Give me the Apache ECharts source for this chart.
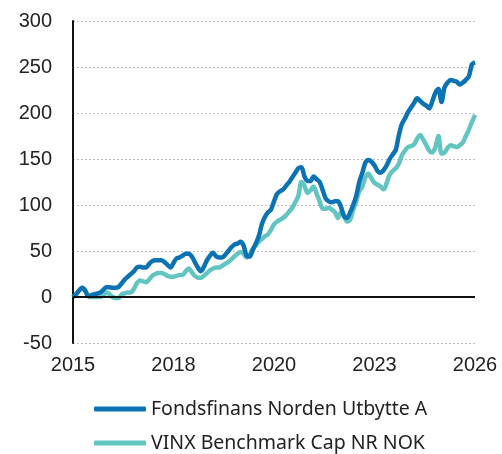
<!DOCTYPE html>
<html>
<head>
<meta charset="utf-8">
<style>
  html, body { margin: 0; padding: 0; background: #fff; }
  #chart { width: 502px; height: 454px; }
</style>
<script src="https://cdn.jsdelivr.net/npm/echarts@6/dist/echarts.min.js"></script>
</head>
<body>
<div id="chart"></div>
<script>
// monthly points, Jan 2015 .. Jan 2026 (index = months since start)
var xTickLabels = ['2015', '2018', '2020', '2023', '2026'];
var xTickStep = 33;

var fundName = 'Fondsfinans Norden Utbytte A';
var benchName = 'VINX Benchmark Cap NR NOK';

var fundValues = [
  0, 3, 7, 10, 7, 1, 2, 3, 4, 5, 8, 10.5, 10.5, 10, 10, 11, 15, 19, 22, 25,
  28, 32, 33, 32, 32, 36, 39, 40, 40, 40, 38, 35, 32, 37, 42, 43, 45, 47, 47, 44,
  38, 32, 28, 33, 40, 45, 48, 44, 43, 43, 46, 50, 54, 57, 58, 60, 56, 45, 44, 51,
  58, 66, 79, 87, 92, 95, 104, 112, 115, 117, 121, 125, 130, 135, 140, 141, 131, 126, 126, 131,
  128, 125, 116, 107, 104, 103, 104, 104, 98, 88, 86, 92, 100, 110, 125, 135, 146, 149, 147, 143,
  137, 135, 138, 143, 150, 155, 160, 176, 188, 194, 201, 206, 211, 216, 213, 210, 208, 205, 213, 222,
  226, 212, 228, 233, 236, 235, 234, 231, 233, 236, 240, 253, 255
];

var benchValues = [
  0, 3, 7, 10, 7, 1, 0, 0, 0, 0, 2, 5, 3, 0, -1, -1, 3, 4, 5, 5,
  9, 15, 18, 17, 16, 19, 23, 25, 26, 26, 25, 23, 22, 22, 23, 24, 24, 28, 31, 27,
  23, 21, 21, 23, 26, 29, 31, 32, 32, 34, 36, 38, 41, 44, 47, 49, 47, 43, 46, 52,
  56, 60, 63, 66, 68, 73, 79, 82, 84, 86, 89, 93, 97, 103, 110, 125, 121, 113, 116, 120,
  112, 104, 96, 96, 97, 95, 92, 86, 92, 88, 82, 84, 95, 104, 115, 120, 130, 134, 129, 124,
  122, 120, 117, 124, 133, 137, 140, 145, 154, 159, 163, 164, 166, 172, 176, 171, 165, 159, 157, 163,
  175, 156, 157, 162, 165, 164, 163, 165, 168, 175, 182, 190, 198
];

function toPairs(arr) {
  return arr.map(function (v, i) { return [i, v]; });
}

var chart = echarts.init(document.getElementById('chart'));

var option = {
  animation: false,
  backgroundColor: '#fff',
  grid: {
    left: 73,
    right: 27,
    top: 21,
    bottom: 111,
    containLabel: false
  },
  legend: {
    orient: 'vertical',
    left: 94,
    top: 399,
    padding: 0,
    itemWidth: 52,
    itemHeight: 5,
    itemGap: 14,
    icon: 'roundRect',
    textStyle: {
      fontFamily: 'Noto Sans',
      fontSize: 19.5,
      color: '#222',
      lineHeight: 20
    },
    data: [fundName, benchName]
  },
  xAxis: {
    type: 'value',
    min: 0,
    max: 132,
    interval: xTickStep,
    axisLine: { show: false, onZero: false },
    axisTick: { show: false },
    splitLine: { show: false },
    axisLabel: {
      margin: 12,
      fontFamily: 'Liberation Sans',
      fontSize: 20,
      color: '#222',
      formatter: function (v) {
        return xTickLabels[Math.round(v / xTickStep)] || '';
      }
    }
  },
  yAxis: {
    type: 'value',
    min: -50,
    max: 300,
    interval: 50,
    axisLine: { show: true, lineStyle: { color: '#111', width: 2 } },
    axisTick: { show: false },
    axisLabel: {
      margin: 21,
      fontFamily: 'Liberation Sans',
      fontSize: 20,
      color: '#222'
    },
    splitLine: {
      show: true,
      lineStyle: { color: '#c2bcbc', width: 1, type: [2, 2] }
    }
  },
  series: [
    {
      name: benchName,
      type: 'line',
      data: toPairs(benchValues),
      showSymbol: false,
      smooth: 0.3,
      color: '#63c5c1',
      lineStyle: { width: 4.5, color: '#63c5c1' },
      z: 2,
      markLine: {
        silent: true,
        symbol: ['none', 'none'],
        label: { show: false },
        lineStyle: { color: '#111', width: 2, type: 'solid' },
        data: [{ yAxis: 0 }]
      }
    },
    {
      name: fundName,
      type: 'line',
      data: toPairs(fundValues),
      showSymbol: false,
      smooth: 0.3,
      color: '#0b72b3',
      lineStyle: { width: 4.5, color: '#0b72b3' },
      z: 3
    }
  ]
};

chart.setOption(option);
</script>
</body>
</html>
